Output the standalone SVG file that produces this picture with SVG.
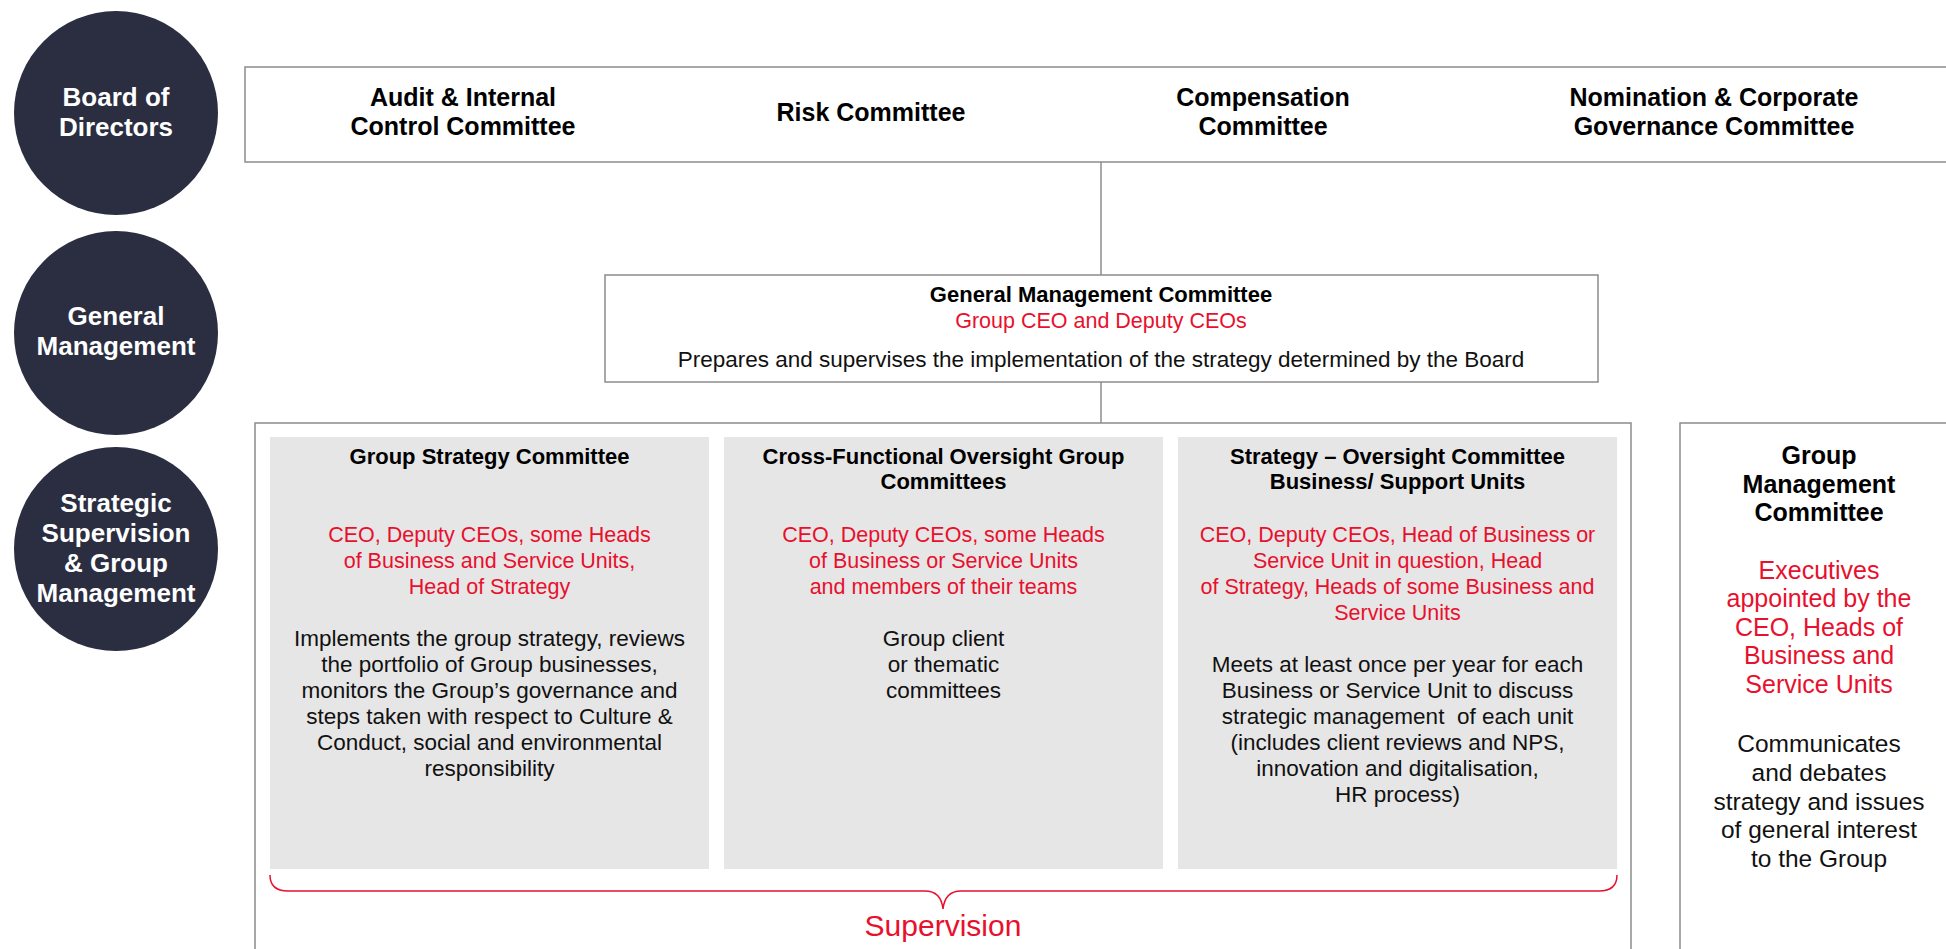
<svg xmlns="http://www.w3.org/2000/svg" width="1946" height="949" viewBox="0 0 1946 949">
<style>
text{font-family:"Liberation Sans",Arial,sans-serif;text-anchor:middle}
.circ{fill:#2b2d41}
.ct{font-weight:700;font-size:26px;fill:#fff}
.box{fill:#fff;stroke:#8c8c8c;stroke-width:1.5}
.gbox{fill:#e6e6e6}
.bh{font-weight:700;font-size:25px;fill:#000}
.h{font-weight:700;font-size:22px;fill:#000}
.r{font-size:21.5px;fill:#e8102d}
.t{font-size:22.5px;fill:#111}
.gh{font-weight:700;font-size:25px;fill:#000}
.gr{font-size:25px;fill:#e8102d}
.gt{font-size:24.5px;fill:#111}
.conn{stroke:#8c8c8c;stroke-width:1.5;fill:none}
.brace{stroke:#e8102d;stroke-width:1.5;fill:none}
</style>
<g id="connectors">
<line class="conn" x1="1101" y1="162" x2="1101" y2="275"/>
<line class="conn" x1="1101" y1="382" x2="1101" y2="423"/>
</g>
<g id="level-board">
<circle class="circ" cx="116" cy="113" r="102"/>
<text class="ct" x="116" y="106">Board of<tspan x="116" dy="30">Directors</tspan></text>
</g>
<g id="level-gm">
<circle class="circ" cx="116" cy="333" r="102"/>
<text class="ct" x="116" y="325">General<tspan x="116" dy="30">Management</tspan></text>
</g>
<g id="level-ss">
<circle class="circ" cx="116" cy="549" r="102"/>
<text class="ct" x="116" y="512">Strategic<tspan x="116" dy="30">Supervision</tspan><tspan x="116" dy="30">&amp; Group</tspan><tspan x="116" dy="30">Management</tspan></text>
</g>
<g id="board-committees">
<rect class="box" x="245" y="67" width="1720" height="95"/>
<text class="bh" x="463" y="106">Audit &amp; Internal<tspan x="463" dy="29">Control Committee</tspan></text>
<text class="bh" x="871" y="121">Risk Committee</text>
<text class="bh" x="1263" y="106">Compensation<tspan x="1263" dy="29">Committee</tspan></text>
<text class="bh" x="1714" y="106">Nomination &amp; Corporate<tspan x="1714" dy="29">Governance Committee</tspan></text>
</g>
<g id="general-management-committee">
<rect class="box" x="605" y="275" width="993" height="107"/>
<text class="h" x="1101" y="302">General Management Committee</text>
<text class="r" x="1101" y="328">Group CEO and Deputy CEOs</text>
<text class="t" x="1101" y="367">Prepares and supervises the implementation of the strategy determined by the Board</text>
</g>
<g id="strategic-frame">
<rect class="box" x="255" y="423" width="1376" height="540"/>
</g>
<g id="group-strategy-committee">
<rect class="gbox" x="270" y="437" width="439" height="432"/>
<text class="h" x="489.5" y="464">Group Strategy Committee</text>
<text class="r" x="489.5" y="541.5">CEO, Deputy CEOs, some Heads<tspan x="489.5" dy="26">of Business and Service Units,</tspan><tspan x="489.5" dy="26">Head of Strategy</tspan></text>
<text class="t" x="489.5" y="645.5">Implements the group strategy, reviews<tspan x="489.5" dy="26">the portfolio of Group businesses,</tspan><tspan x="489.5" dy="26">monitors the Group’s governance and</tspan><tspan x="489.5" dy="26">steps taken with respect to Culture &amp;</tspan><tspan x="489.5" dy="26">Conduct, social and environmental</tspan><tspan x="489.5" dy="26">responsibility</tspan></text>
</g>
<g id="cross-functional-committees">
<rect class="gbox" x="724" y="437" width="439" height="432"/>
<text class="h" x="943.5" y="464">Cross-Functional Oversight Group<tspan x="943.5" dy="25">Committees</tspan></text>
<text class="r" x="943.5" y="541.5">CEO, Deputy CEOs, some Heads<tspan x="943.5" dy="26">of Business or Service Units</tspan><tspan x="943.5" dy="26">and members of their teams</tspan></text>
<text class="t" x="943.5" y="645.5">Group client<tspan x="943.5" dy="26">or thematic</tspan><tspan x="943.5" dy="26">committees</tspan></text>
</g>
<g id="strategy-oversight-committee">
<rect class="gbox" x="1178" y="437" width="439" height="432"/>
<text class="h" x="1397.5" y="464">Strategy – Oversight Committee<tspan x="1397.5" dy="25">Business/ Support Units</tspan></text>
<text class="r" x="1397.5" y="541.5">CEO, Deputy CEOs, Head of Business or<tspan x="1397.5" dy="26">Service Unit in question, Head</tspan><tspan x="1397.5" dy="26">of Strategy, Heads of some Business and</tspan><tspan x="1397.5" dy="26">Service Units</tspan></text>
<text class="t" x="1397.5" y="671.5" xml:space="preserve">Meets at least once per year for each<tspan x="1397.5" dy="26">Business or Service Unit to discuss</tspan><tspan x="1397.5" dy="26">strategic management  of each unit</tspan><tspan x="1397.5" dy="26">(includes client reviews and NPS,</tspan><tspan x="1397.5" dy="26">innovation and digitalisation,</tspan><tspan x="1397.5" dy="26">HR process)</tspan></text>
</g>
<g id="supervision">
<path class="brace" d="M270,875 Q270,891 288,891 L925,891 Q941,891 943,909 Q945,891 961,891 L1599,891 Q1617,891 1617,875"/>
<text class="r" style="font-size:30px" x="943" y="936">Supervision</text>
</g>
<g id="group-management-committee">
<rect class="box" x="1680" y="423" width="290" height="540"/>
<text class="gh" x="1819" y="464">Group<tspan x="1819" dy="28.5">Management</tspan><tspan x="1819" dy="28.5">Committee</tspan></text>
<text class="gr" x="1819" y="578.5">Executives<tspan x="1819" dy="28.6">appointed by the</tspan><tspan x="1819" dy="28.6">CEO, Heads of</tspan><tspan x="1819" dy="28.6">Business and</tspan><tspan x="1819" dy="28.6">Service Units</tspan></text>
<text class="gt" x="1819" y="752">Communicates<tspan x="1819" dy="28.75">and debates</tspan><tspan x="1819" dy="28.75">strategy and issues</tspan><tspan x="1819" dy="28.75">of general interest</tspan><tspan x="1819" dy="28.75">to the Group</tspan></text>
</g>
</svg>
